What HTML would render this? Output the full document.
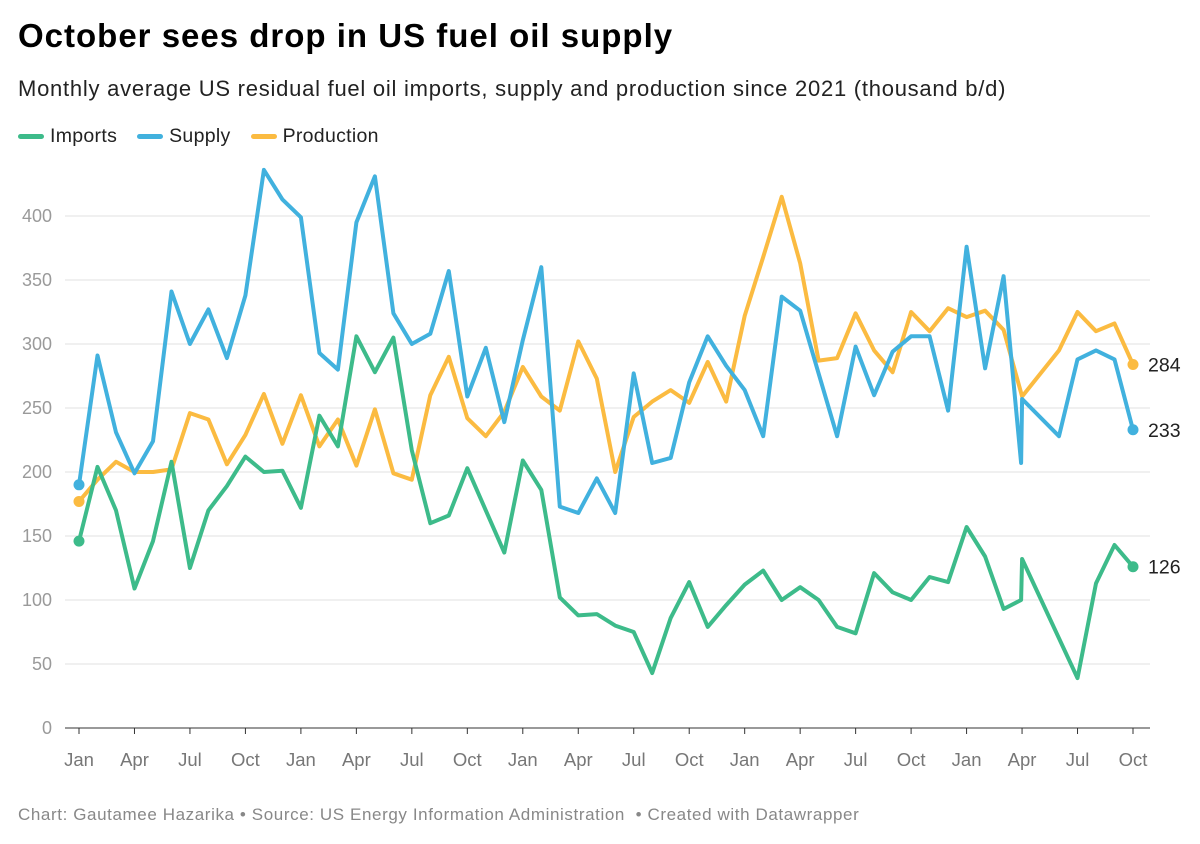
<!DOCTYPE html>
<html><head><meta charset="utf-8"><style>
body{margin:0;width:1200px;height:844px;background:#fff;font-family:"Liberation Sans",sans-serif;overflow:hidden}
#title{position:absolute;left:18px;top:17px;font-size:33px;font-weight:bold;color:#000;letter-spacing:1px}
#sub{position:absolute;left:18px;top:76px;font-size:22px;color:#222;letter-spacing:0.75px}
#legend{position:absolute;left:18px;top:125px;font-size:19.5px;color:#222;display:flex;gap:20px;letter-spacing:0.3px}
.li{display:flex;align-items:center;gap:6px}
.sw{width:26px;height:5px;border-radius:3px;display:inline-block}
#foot{position:absolute;left:18px;top:805px;font-size:17px;color:#888;letter-spacing:0.6px}
svg{position:absolute;left:0;top:0}
</style></head><body>
<div id="title">October sees drop in US fuel oil supply</div>
<div id="sub">Monthly average US residual fuel oil imports, supply and production since 2021 (thousand b/d)</div>
<div id="legend">
<span class="li"><span class="sw" style="background:#3dbb8a"></span>Imports</span>
<span class="li"><span class="sw" style="background:#41b1de"></span>Supply</span>
<span class="li"><span class="sw" style="background:#fbbb41"></span>Production</span>
</div>
<div id="foot">Chart: Gautamee Hazarika • Source: US Energy Information Administration &nbsp;• Created with Datawrapper</div>
<svg id="chart" width="1200" height="844"></svg>
<script>
const months=[0,1,2,3,4,5,6,7,8,9,10,11,12,13,14,15,16,17,18,19,20,21,22,23,24,25,26,27,28,29,30,31,32,33,34,35,36,37,38,39,40,41,42,43,44,45,46,47,48,49,50,50.95,51,52,53,54,55,56,57];
const imports=[146,204,170,109,146,208,125,170,189,212,200,201,172,244,220,306,278,305,217,160,166,203,170,137,209,186,102,88,89,80,75,43,86,114,79,96,112,123,100,110,100,79,74,121,106,100,118,114,157,134,93,100,132,null,null,39,113,143,126];
const supply=[190,291,231,199,224,341,300,327,289,338,436,413,399,293,280,395,431,324,300,308,357,259,297,239,303,360,173,168,195,168,277,207,211,270,306,283,264,228,337,326,277,228,298,260,294,306,306,248,376,281,353,207,257,null,228,288,295,288,233];
const production=[177,194,208,200,200,202,246,241,206,229,261,222,260,220,241,205,249,199,194,260,290,242,228,247,282,259,248,302,273,200,243,255,264,254,286,255,322,368,415,363,287,289,324,295,278,325,310,328,321,326,311,null,259,null,295,325,310,316,284];
const yTicks=[0,50,100,150,200,250,300,350,400];
const xTickMonths=[0,3,6,9,12,15,18,21,24,27,30,33,36,39,42,45,48,51,54,57];
const xTickLabels=["Jan","Apr","Jul","Oct","Jan","Apr","Jul","Oct","Jan","Apr","Jul","Oct","Jan","Apr","Jul","Oct","Jan","Apr","Jul","Oct"];
const NS="http://www.w3.org/2000/svg";
const svg=document.getElementById('chart');
const X=m=>79+m*(1133-79)/57;
const Y=v=>728-v*(728-216)/400;
function mk(t,a){const e=document.createElementNS(NS,t);for(const k in a)e.setAttribute(k,a[k]);svg.appendChild(e);return e;}
yTicks.forEach(v=>{
  const l=mk('line',{x1:65,x2:1150,y1:Y(v),y2:Y(v),stroke:v===0?'#333':'#e2e2e2','stroke-width':1});
  
  
  const t=mk('text',{x:52,y:Y(v)+6,'text-anchor':'end','font-size':18,fill:'#9a9a9a','font-family':'Liberation Sans, sans-serif'});
  t.textContent=v;
  
  
});
xTickMonths.forEach((m,i)=>{
  const tk=mk('line',{x1:X(m),x2:X(m),y1:728,y2:734,stroke:'#333'});
  
  
  const t=mk('text',{x:X(m),y:766,'text-anchor':'middle','font-size':18.5,fill:'#777','font-family':'Liberation Sans, sans-serif'});
  t.textContent=xTickLabels[i];
  
  
});
const series=[["production",production,"#fbbb41"],["supply",supply,"#41b1de"],["imports",imports,"#3dbb8a"]];
series.forEach(([name,vals,col])=>{
  let d='';vals.forEach((v,i)=>{if(v===null)return;d+=(d?'L':'M')+X(months[i]).toFixed(1)+','+Y(v).toFixed(1);});
  const p=mk('path',{d:d,fill:'none',stroke:col,'stroke-width':4,'stroke-linejoin':'round','stroke-linecap':'round'});
  
  
  const fi=vals.findIndex(v=>v!==null);
  const c0=mk('circle',{cx:X(months[fi]),cy:Y(vals[fi]),r:5.5,fill:col});
  
  
  const li=vals.length-1;
  const c1=mk('circle',{cx:X(months[li]),cy:Y(vals[li]),r:5.5,fill:col});
  
  
  const t=mk('text',{x:1148,y:Y(vals[li])+7,'font-size':19.5,fill:'#222','font-family':'Liberation Sans, sans-serif'});
  t.textContent=vals[li];
  
  
});
</script>
</body></html>
